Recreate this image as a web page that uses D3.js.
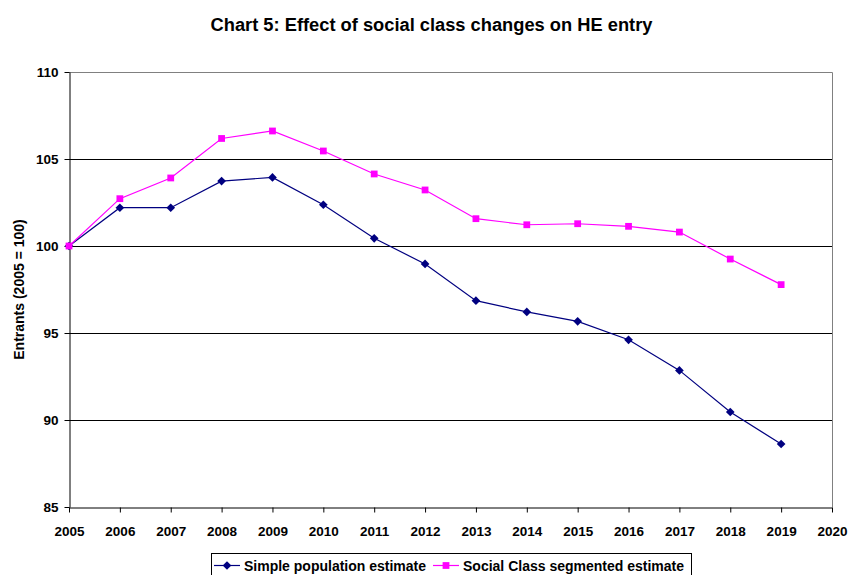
<!DOCTYPE html>
<html>
<head>
<meta charset="utf-8">
<script src="https://cdn.jsdelivr.net/npm/d3@7"></script>
<style>
  body { margin: 0; background: #fff; }
  svg { display: block; font-family: "Liberation Sans", Arial, sans-serif; }
</style>
</head>
<body>
<svg id="chart" width="848" height="575"></svg>
<script>
// Index of HE entrants, 2005 = 100
const years = [2005, 2006, 2007, 2008, 2009, 2010, 2011, 2012, 2013, 2014, 2015, 2016, 2017, 2018, 2019];
const simpleEstimate = [100, 102.2, 102.2, 103.73, 103.94, 102.37, 100.44, 98.97, 96.86, 96.21, 95.67, 94.61, 92.85, 90.46, 88.62];
const segmentedEstimate = [100, 102.72, 103.91, 106.18, 106.61, 105.46, 104.14, 103.22, 101.57, 101.22, 101.28, 101.13, 100.80, 99.25, 97.78];
const xTicks = [2005, 2006, 2007, 2008, 2009, 2010, 2011, 2012, 2013, 2014, 2015, 2016, 2017, 2018, 2019, 2020];
const yTicks = [85, 90, 95, 100, 105, 110];
const seriesNames = ["Simple population estimate", "Social Class segmented estimate"];

const svg = d3.select("#chart");
const plot = { left: 69, right: 832, top: 72, bottom: 507 };
const FONT = "Liberation Sans, Arial, sans-serif";

const x = d3.scaleLinear().domain([2005, 2020]).range([plot.left, plot.right]);
const y = d3.scaleLinear().domain([85, 110]).range([plot.bottom, plot.top]);

// Title
svg.append("text")
  .attr("x", 431.5).attr("y", 31)
  .attr("text-anchor", "middle")
  .attr("font-size", 18.3).attr("font-weight", "bold")
  .text("Chart 5: Effect of social class changes on HE entry");

// Horizontal gridlines
svg.append("g").selectAll("line")
  .data(yTicks.filter(d => d > 85 && d < 110))
  .join("line")
  .attr("x1", plot.left).attr("x2", plot.right)
  .attr("y1", d => Math.round(y(d)) + 0.5).attr("y2", d => Math.round(y(d)) + 0.5)
  .attr("stroke", "#000").attr("stroke-width", 1);

// Plot-area frame: grey top and right
svg.append("path")
  .attr("d", `M${plot.left},${plot.top + 0.5}H${plot.right + 0.5}V${plot.bottom}`)
  .attr("fill", "none").attr("stroke", "#808080").attr("stroke-width", 1);

// Axes
const xAxis = d3.axisBottom(x).tickValues(xTicks).tickFormat(d3.format("d")).tickSize(5).tickSizeOuter(0);
const yAxis = d3.axisLeft(y).tickValues(yTicks).tickFormat(d3.format("d")).tickSize(5).tickSizeOuter(0);

const gx = svg.append("g")
  .attr("transform", `translate(0,${plot.bottom + 0.5})`)
  .call(xAxis);
gx.selectAll("text").attr("dy", null).attr("y", 28)
  .attr("font-size", 13.5).attr("font-weight", "bold").attr("fill", "#000")
  .attr("font-family", FONT);

const gy = svg.append("g")
  .attr("transform", `translate(${plot.left + 0.5},0)`)
  .call(yAxis);
gy.selectAll("text").attr("x", -11).attr("dy", "0.35em")
  .attr("font-size", 13.5).attr("font-weight", "bold").attr("fill", "#000")
  .attr("font-family", FONT);
svg.selectAll(".domain, .tick line").attr("stroke", "#000");

// Y axis title
svg.append("text")
  .attr("transform", `translate(24,${(plot.top + plot.bottom) / 2}) rotate(-90)`)
  .attr("text-anchor", "middle")
  .attr("font-size", 14).attr("font-weight", "bold")
  .text("Entrants (2005 = 100)");

// Series
const series = [
  { name: seriesNames[0], values: simpleEstimate, color: "#000080", shape: "diamond" },
  { name: seriesNames[1], values: segmentedEstimate, color: "#FF00FF", shape: "square" }
];

const line = d3.line().x((d, i) => x(years[i])).y(d => y(d));
const diamond = d3.symbol().type(d3.symbolDiamond2).size(48);
const square = d3.symbol().type(d3.symbolSquare).size(46);

function marker(g, s, cx, cy) {
  const sym = s.shape === "diamond" ? diamond : square;
  g.append("path").attr("d", sym()).attr("transform", `translate(${cx},${cy})`)
    .attr("fill", s.color);
}

series.forEach(s => {
  const g = svg.append("g");
  g.append("path").datum(s.values)
    .attr("d", line).attr("fill", "none")
    .attr("stroke", s.color).attr("stroke-width", 1.2);
  s.values.forEach((v, i) => marker(g, s, x(years[i]), y(v)));
});

// Legend
const legend = svg.append("g");
legend.append("rect")
  .attr("x", 211.5).attr("y", 553.5).attr("width", 480).attr("height", 30)
  .attr("fill", "#fff").attr("stroke", "#000");
const legendItems = [
  { s: series[0], lx: 214, tx: 244 },
  { s: series[1], lx: 433, tx: 463 }
];
legendItems.forEach(it => {
  legend.append("line")
    .attr("x1", it.lx).attr("x2", it.lx + 26).attr("y1", 565.5).attr("y2", 565.5)
    .attr("stroke", it.s.color).attr("stroke-width", 1.2);
  marker(legend, it.s, it.lx + 13, 565.5);
  legend.append("text")
    .attr("x", it.tx).attr("y", 566).attr("dy", "0.35em")
    .attr("font-size", 14).attr("font-weight", "bold")
    .text(it.s.name);
});
</script>
</body>
</html>
